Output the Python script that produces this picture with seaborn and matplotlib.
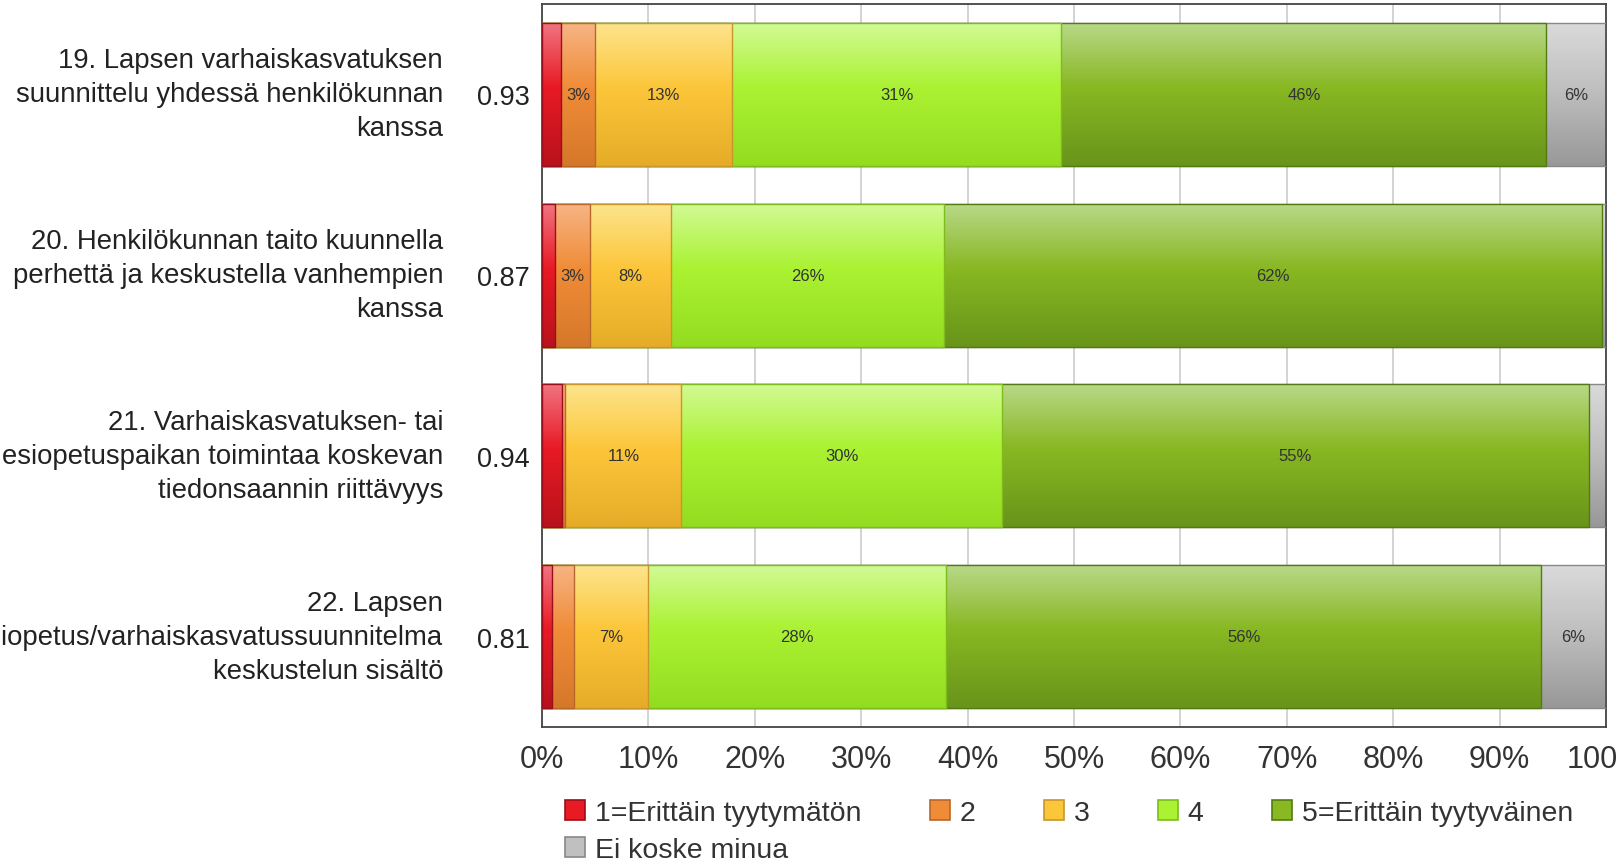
import numpy as np
import pandas as pd
import matplotlib
matplotlib.use("Agg")
import matplotlib.pyplot as plt
import matplotlib.transforms as mtransforms
from matplotlib.colors import to_rgb
from matplotlib.patches import Patch
import seaborn as sns

# DATA
questions = [
    "19. Lapsen varhaiskasvatuksen\nsuunnittelu yhdessä henkilökunnan\nkanssa",
    "20. Henkilökunnan taito kuunnella\nperhettä ja keskustella vanhempien\nkanssa",
    "21. Varhaiskasvatuksen- tai\nesiopetuspaikan toimintaa koskevan\ntiedonsaannin riittävyys",
    "22. Lapsen\nesiopetus/varhaiskasvatussuunnitelma\nkeskustelun sisältö",
]
means = ["0.93", "0.87", "0.94", "0.81"]
levels = ["1=Erittäin tyytymätön", "2", "3", "4", "5=Erittäin tyytyväinen", "Ei koske minua"]

share_1 = [1.8, 1.2, 1.9, 0.9]
share_2 = [3.2, 3.3, 0.3, 2.1]
share_3 = [12.9, 7.6, 10.9, 7.0]
share_4 = [30.9, 25.7, 30.1, 28.0]
share_5 = [45.6, 61.8, 55.2, 55.9]
share_eos = [5.6, 0.4, 1.6, 6.1]
shares = np.array([share_1, share_2, share_3, share_4, share_5, share_eos]).T

xticks = list(range(0, 101, 10))
xtick_labels = [f"{v}%" for v in xticks]

# (top, middle, bottom) of the glossy gradient
grad_colors = {
    "1=Erittäin tyytymätön": ("#f07480", "#e81a24", "#b8121c"),
    "2": ("#f7b484", "#f08c38", "#d6782a"),
    "3": ("#fde48c", "#fcc63a", "#e6ac28"),
    "4": ("#d2fa94", "#aaf232", "#94dc20"),
    "5=Erittäin tyytyväinen": ("#b8d888", "#88b822", "#68941a"),
    "Ei koske minua": ("#dadada", "#c0c0c0", "#989898"),
}
edge_colors = {
    "1=Erittäin tyytymätön": "#9a1018",
    "2": "#b8682a",
    "3": "#c8962a",
    "4": "#7cbc1c",
    "5=Erittäin tyytyväinen": "#547a14",
    "Ei koske minua": "#888888",
}

# CONFIG
sns.set_style("white")
plt.rcParams["font.family"] = ["Liberation Sans", "DejaVu Sans"]

rows = []
for i, m in enumerate(means):
    cum = np.cumsum(shares[i])
    for j, lev in enumerate(levels):
        rows.append({"mean": m, "level": lev, "cum": cum[j]})
df = pd.DataFrame(rows)

fig = plt.figure(figsize=(16.17, 8.62), dpi=100)
ax = fig.add_axes([542 / 1617, 1 - 728 / 862, (1606 - 542) / 1617, (728 - 5) / 862])

hue_order = levels[::-1]
palette = {lev: grad_colors[lev][1] for lev in levels}
sns.barplot(data=df, x="cum", y="mean", hue="level", hue_order=hue_order,
            order=means, palette=palette, dodge=False, width=0.79,
            orient="h", saturation=1, errorbar=None, legend=False, ax=ax)


def gradient(top, mid, bot, n=120):
    t = np.linspace(0, 1, n)
    cols = np.array([to_rgb(top), to_rgb(mid), to_rgb(bot)])
    pos = [0, 0.45, 1]
    arr = np.stack([np.interp(t, pos, cols[:, k]) for k in range(3)], axis=1)
    return arr[:, None, :]


# glossy fill clipped to each bar
for L, (container, lev) in enumerate(zip(ax.containers, hue_order)):
    g = gradient(*grad_colors[lev])
    for bar in container:
        x0, y0 = bar.get_x(), bar.get_y()
        w, h = bar.get_width(), bar.get_height()
        im = ax.imshow(g, extent=(x0, x0 + w, y0 + h, y0), aspect="auto",
                       origin="upper", interpolation="bilinear", zorder=2 + 2 * L)
        im.set_clip_path(bar)
        bar.set_facecolor("none")
        bar.set_edgecolor(edge_colors[lev])
        bar.set_linewidth(1.0)
        bar.set_zorder(3 + 2 * L)

ax.set_xlim(0, 100)
ax.set_ylim(3.5, -0.5)

# percentage labels inside segments
for i in range(len(means)):
    left = 0
    for j in range(len(levels)):
        v = shares[i, j]
        if v >= 2.5:
            ax.text(left + v / 2, i, f"{round(v)}%", ha="center", va="center",
                    fontsize=12, color="#333333", zorder=30)
        left += v

# question texts left of the mean values
trans = mtransforms.blended_transform_factory(fig.transFigure, ax.transData)
for i, q in enumerate(questions):
    ax.text(443 / 1617, i, q, transform=trans, ha="right", va="center",
            fontsize=19.8, color="#222222", linespacing=1.4, clip_on=False)

ax.set_xticks(xticks)
ax.set_xticklabels(xtick_labels, fontsize=22, color="#333333")
ax.tick_params(axis="x", direction="out", length=7, width=1, color="#555555", pad=5)
ax.tick_params(axis="y", direction="out", length=5, width=1, color="#555555", pad=4,
               labelsize=19.5, labelcolor="#222222")
ax.set_xlabel("")
ax.set_ylabel("")

ax.grid(axis="x", color="#d0d0d0", linewidth=1.3, zorder=0)
ax.set_axisbelow(True)
for s in ax.spines.values():
    s.set_color("#444444")
    s.set_linewidth(1.3)

# LEGEND (row-major: five entries on row one, "Ei koske minua" below the first)
handles = [Patch(facecolor=grad_colors[lev][1], edgecolor=edge_colors[lev], linewidth=1.2)
           for lev in levels]
order = [0, 5, 1, 2, 3, 4]
fig.legend([handles[k] for k in order], [levels[k] for k in order],
           loc="upper left", bbox_to_anchor=(565 / 1617, 1 - 801 / 862),
           ncol=5, frameon=False, prop={"size": 20.5},
           handlelength=0.7, handleheight=0.7, handletextpad=0.35,
           columnspacing=2.4, labelspacing=0.4, borderpad=0, borderaxespad=0,
           labelcolor="#333333")

fig.savefig("out.png", dpi=100)
